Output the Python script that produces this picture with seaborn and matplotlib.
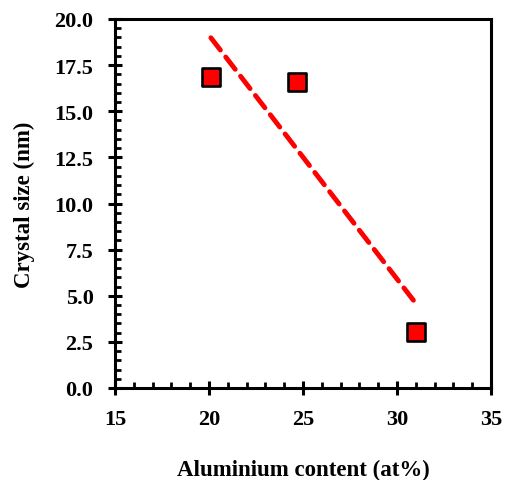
import numpy as np
import pandas as pd
import matplotlib
matplotlib.use("Agg")
import matplotlib.pyplot as plt
import seaborn as sns
from matplotlib.ticker import MultipleLocator, FormatStrFormatter

al_content = [20.1, 24.7, 31.0]
crystal_size = [16.85, 16.6, 3.03]

df = pd.DataFrame({"al": al_content, "size": crystal_size})

sns.set_style("ticks")
plt.rcParams['font.family'] = ['Liberation Serif', 'DejaVu Serif']
plt.rcParams['font.weight'] = 'bold'
plt.rcParams['text.color'] = 'black'
plt.rcParams['axes.labelcolor'] = 'black'
plt.rcParams['xtick.color'] = 'black'
plt.rcParams['ytick.color'] = 'black'

fig = plt.figure(figsize=(5.12, 4.81), dpi=100)
ax = fig.add_axes([115/512, 1 - 389/481, (491-115)/512, (389-20)/481])

sns.regplot(data=df, x="al", y="size", ax=ax, scatter=False, ci=None, truncate=True,
            line_kws=dict(color="#ff0000", lw=3.5, ls=(0, (3.2, 1.8)), dash_capstyle="round"))
sns.scatterplot(data=df, x="al", y="size", ax=ax, marker="s", s=160, color="#ff0000",
                edgecolor="black", linewidth=1.9, zorder=5)

ax.set_xlim(15, 35)
ax.set_ylim(0, 20)
ax.xaxis.set_major_locator(MultipleLocator(5))
ax.xaxis.set_minor_locator(MultipleLocator(1))
ax.yaxis.set_major_locator(MultipleLocator(2.5))
ax.yaxis.set_minor_locator(MultipleLocator(0.5))
ax.yaxis.set_major_formatter(FormatStrFormatter("%.1f"))

for s in ax.spines.values():
    s.set_linewidth(2.2)
    s.set_color("black")
ax.tick_params(which="major", direction="inout", length=10, width=2.2, labelsize=16, colors="black")
ax.tick_params(axis="y", which="major", pad=10.5)
ax.tick_params(axis="x", which="major", pad=10)
ax.tick_params(which="minor", direction="in", length=4.5, width=2.0)
for lab in ax.get_xticklabels() + ax.get_yticklabels():
    lab.set_fontweight("bold")

ax.set_xlabel("Aluminium content (at%)", fontsize=16.5, fontweight="bold", labelpad=21.5)
ax.set_ylabel("Crystal size (nm)", fontsize=16.5, fontweight="bold", labelpad=14)

fig.savefig("out.png", dpi=100)
